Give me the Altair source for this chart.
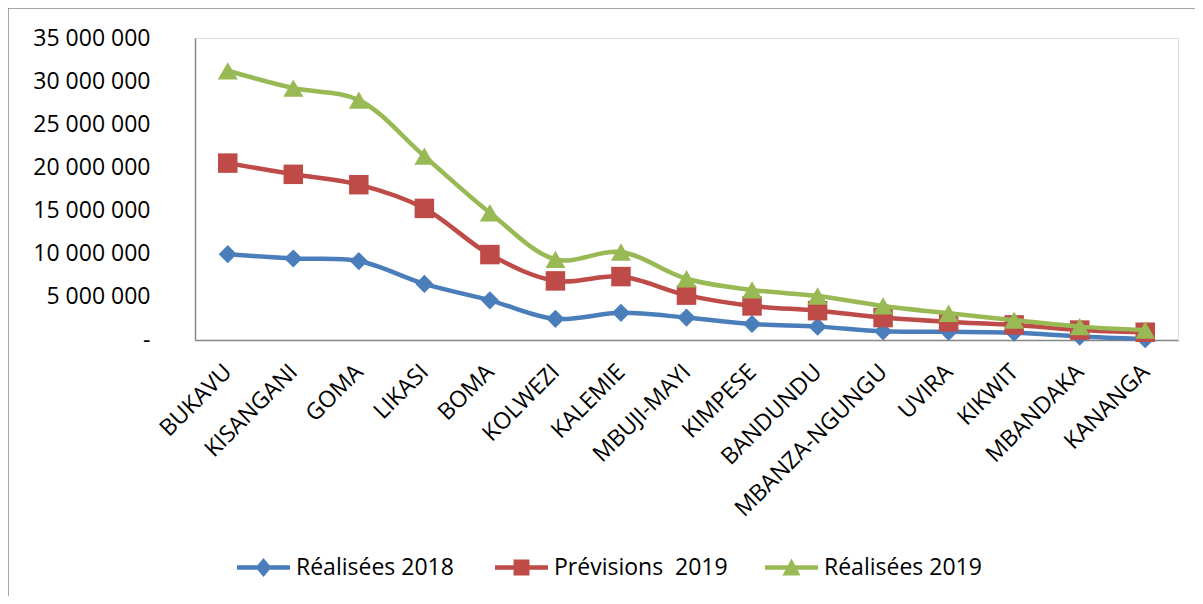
import altair as alt
import pandas as pd

cities = ["BUKAVU", "KISANGANI", "GOMA", "LIKASI", "BOMA", "KOLWEZI", "KALEMIE",
          "MBUJI-MAYI", "KIMPESE", "BANDUNDU", "MBANZA-NGUNGU", "UVIRA", "KIKWIT",
          "MBANDAKA", "KANANGA"]
realisees_2018 = [9.95, 9.45, 9.15, 6.5, 4.6, 2.45, 3.15, 2.6, 1.85, 1.55, 1.0, 0.95, 0.85, 0.4, 0.1]
previsions_2019 = [20.5, 19.2, 18.0, 15.25, 9.9, 6.85, 7.35, 5.2, 3.95, 3.4, 2.6, 2.1, 1.75, 1.15, 0.9]
realisees_2019 = [31.2, 29.2, 27.8, 21.3, 14.75, 9.35, 10.2, 7.1, 5.8, 5.1, 3.95, 3.1, 2.3, 1.55, 1.15]

series_names = ["Réalisées 2018", "Prévisions\u00a0 2019", "Réalisées 2019"]
series_values = [realisees_2018, previsions_2019, realisees_2019]
colors = ["#4A7EBB", "#BE4B48", "#98B954"]
shapes = ["diamond", "square", "triangle-up"]
sizes = [330, 380, 400]

# legend symbol paths: line + marker
leg_paths = [
    "M-1,-0.085H1V0.085H-1Z M0,-0.36L0.3,0L0,0.36L-0.3,0Z",
    "M-1,-0.085H1V0.085H-1Z M-0.3,-0.3H0.3V0.3H-0.3Z",
    "M-1,-0.085H1V0.085H-1Z M0,-0.34L0.34,0.3H-0.34Z",
]
leg_x = [42, 300, 570]

W, H = 983, 302
FONT = "Open Sans"
FS = 23

x_enc = alt.X("city:N", sort=cities, scale=alt.Scale(paddingOuter=0.5),
              axis=alt.Axis(title=None, labelAngle=-45, labelAlign="right",
                            labelBaseline="middle", labelPadding=28, ticks=False,
                            labelLimit=0, labelOverlap=False,
                            labelFontSize=FS, labelFont=FONT, labelColor="#000",
                            domainColor="#868686", domainWidth=1.5))
y_enc = alt.Y("value:Q", scale=alt.Scale(domain=[0, 35000000], nice=False),
              axis=alt.Axis(title=None, values=[i * 5000000 for i in range(8)],
                            labelExpr="datum.value == 0 ? '-\u00a0\u00a0' : replace(format(datum.value, ','), regexp(',', 'g'), ' ')",
                            ticks=False, grid=False, labelPadding=45, labelLimit=0,
                            labelFontSize=FS, labelFont=FONT, labelColor="#000",
                            domainColor="#868686", domainWidth=1.5))

layers = []
for i, (name, vals) in enumerate(zip(series_names, series_values)):
    df = pd.DataFrame({"city": cities, "value": [v * 1e6 for v in vals], "series": name})
    line = alt.Chart(df).mark_line(interpolate="catmull-rom", strokeWidth=4.5,
                                   color=colors[i]).encode(x=x_enc, y=y_enc)
    pts = alt.Chart(df).mark_point(shape=shapes[i], filled=True, size=sizes[i],
                                   opacity=1).encode(
        x=x_enc, y=y_enc,
        color=alt.Color("series:N",
                        scale=alt.Scale(domain=[name], range=[colors[i]]),
                        legend=alt.Legend(title=None, orient="none",
                                          legendX=leg_x[i], legendY=503,
                                          symbolType=leg_paths[i], symbolSize=2809,
                                          symbolStrokeWidth=0, symbolOpacity=1,
                                          labelFont=FONT, labelFontSize=FS,
                                          labelColor="#000", labelOffset=6,
                                          labelLimit=0, padding=0)))
    layers += [line, pts]

frame_df = pd.DataFrame({"k": [0]})
frame_top = alt.Chart(frame_df).mark_rule(color="#888888", strokeWidth=1.5).encode(
    x=alt.value(-187), x2=alt.value(1000), y=alt.value(-30))
frame_left = alt.Chart(frame_df).mark_rule(color="#888888", strokeWidth=1.5).encode(
    x=alt.value(-187), y=alt.value(-30), y2=alt.value(560))

chart = alt.layer(frame_top, frame_left, *layers).resolve_scale(
    color="independent").resolve_legend(color="independent").properties(
    width=W, height=H,
    autosize=alt.AutoSizeParams(type="none"),
    padding={"left": 187, "top": 30, "right": 17, "bottom": 256},
).configure_view(stroke=None).configure(font=FONT)

chart.save("out.html", embed_options={"renderer": "svg", "actions": False})
